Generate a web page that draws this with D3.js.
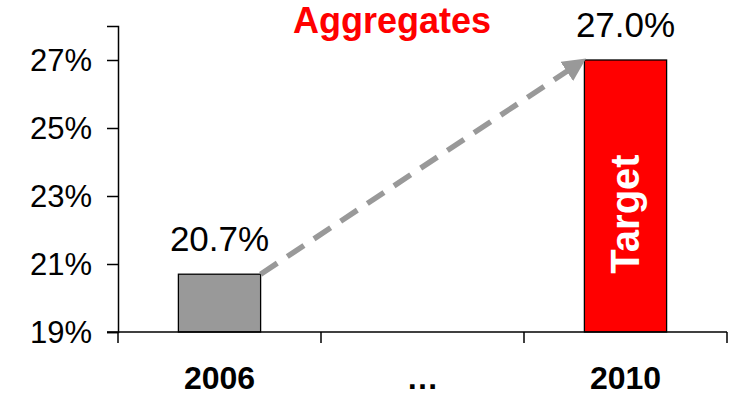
<!DOCTYPE html>
<html><head><meta charset="utf-8">
<script src="https://cdn.jsdelivr.net/npm/d3@7"></script>
<style>body{margin:0;background:#fff}svg{display:block}text{font-family:"Liberation Sans",Arial,sans-serif}</style>
</head><body><svg id="c" width="731" height="396"></svg>
<script>
const categories = ["2006", "…", "2010"];
const values = [20.7, null, 27.0];
const valueLabels = ["20.7%", "", "27.0%"];
const barColors = ["#999999", null, "#ff0000"];
const yTicks = [19, 21, 23, 25, 27];
const title = "Aggregates";
const barText = "Target";

const svg = d3.select("#c");
const x = d3.scaleBand().domain(categories).range([118, 727]).paddingInner(0).paddingOuter(0);
const y = d3.scaleLinear().domain([19, 28]).range([332, 26]);
const bw = x.bandwidth() * 0.405;

// bars
categories.forEach((c, i) => {
  if (values[i] == null) return;
  const cx = x(c) + x.bandwidth() / 2;
  svg.append("rect").attr("x", cx - bw / 2).attr("y", y(values[i]))
    .attr("width", bw).attr("height", y(19) - y(values[i]))
    .attr("fill", barColors[i]).attr("stroke", "#000").attr("stroke-width", 1.3);
  svg.append("text").attr("x", cx).attr("y", y(values[i]) - 23)
    .attr("text-anchor", "middle").attr("font-size", 35).text(valueLabels[i]);
});

// axes
const yAxis = svg.append("g").attr("transform", "translate(118,0)")
  .call(d3.axisLeft(y).tickValues(yTicks).tickFormat(d => d + "%").tickSizeOuter(0).tickSize(11).tickPadding(15));
yAxis.select(".domain").attr("stroke", "#000").attr("stroke-width", 1.5);
yAxis.selectAll(".tick line").attr("stroke-width", 1.5);
yAxis.selectAll("text").attr("font-size", 31).attr("font-family", "Liberation Sans, Arial, sans-serif").attr("dy", "0.33em").attr("fill", "#000");

svg.append("line").attr("x1", 107).attr("x2", 727).attr("y1", y(19)).attr("y2", y(19)).attr("stroke", "#000").attr("stroke-width", 1.5);
const xTickPos = [118, ...categories.map(c => x(c) + x.bandwidth())];
xTickPos.forEach(px => {
  svg.append("line").attr("x1", px).attr("x2", px).attr("y1", y(19)).attr("y2", y(19) + 11).attr("stroke", "#000").attr("stroke-width", 1.5);
});
categories.forEach(c => {
  svg.append("text").attr("x", x(c) + x.bandwidth() / 2).attr("y", 389).attr("text-anchor", "middle")
    .attr("font-size", 32).attr("font-weight", "bold").text(c);
});

// arrow
const x0 = x(categories[0]) + x.bandwidth() / 2 + bw / 2, y0 = y(values[0]);
const x1 = x(categories[2]) + x.bandwidth() / 2 - bw / 2, y1 = y(values[2]);
svg.append("defs").append("marker").attr("id", "ah").attr("viewBox", "0 0 10 10")
  .attr("refX", 5).attr("refY", 5).attr("markerWidth", 4.2).attr("markerHeight", 4.2).attr("orient", "auto")
  .append("path").attr("d", "M0,0 L10,5 L0,10 Z").attr("fill", "#999999");
svg.append("line").attr("x1", x0).attr("y1", y0).attr("x2", x1 - 8).attr("y2", y1 + 5)
  .attr("stroke", "#999999").attr("stroke-width", 5.5).attr("stroke-dasharray", "20,12")
  .attr("marker-end", "url(#ah)");

// title
svg.append("text").attr("x", 392).attr("y", 33).attr("text-anchor", "middle")
  .attr("font-size", 36).attr("font-weight", "bold").attr("fill", "#ff0000").text(title);

// rotated label
const tx = x(categories[2]) + x.bandwidth() / 2;
svg.append("text").attr("transform", `translate(${tx + 13},${(y(values[2]) + y(19)) / 2 + 18}) rotate(-90)`)
  .attr("text-anchor", "middle").attr("font-size", 40).attr("font-weight", "bold").attr("fill", "#fff").text(barText);
</script></body></html>
